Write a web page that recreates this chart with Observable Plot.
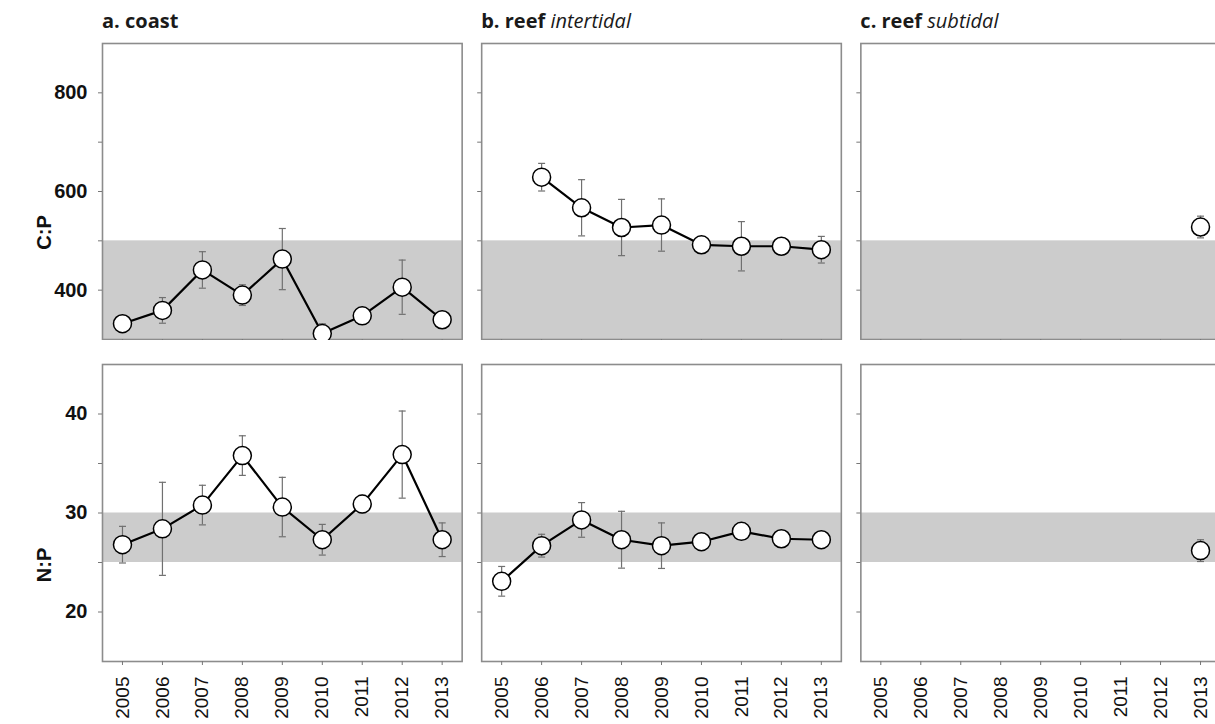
<!DOCTYPE html>
<html><head><meta charset="utf-8">
<script src="https://cdn.jsdelivr.net/npm/d3@7"></script>
<script src="https://cdn.jsdelivr.net/npm/@observablehq/plot@0.6"></script>
<style>
body{margin:0;background:#fff;overflow:hidden;}
#wrap{position:relative;width:1215px;height:724px;overflow:hidden;background:#fff;}
.title{position:absolute;top:8px;font-family:"Open Sans",sans-serif;font-size:20px;line-height:26px;color:#1a1a1a;white-space:nowrap;}
.title b{font-weight:700}
.title i{font-weight:400;font-style:italic}
#top{position:absolute;left:0;top:0;width:1230px}
#bot{position:absolute;left:0;top:340px;width:1230px}
#top svg,#bot svg{max-width:none !important;}
</style></head><body>
<div id="wrap"><div id="top"></div><div id="bot"></div></div>
<script>
// ---- data ----
const years = [2005, 2006, 2007, 2008, 2009, 2010, 2011, 2012, 2013];
const panelKeys = ["a", "b", "c"];
const panelBold = ["a. coast", "b. reef", "c. reef"];
const panelItalic = ["", "intertidal", "subtidal"];

const cpCoast = [332, 359, 441, 390, 463, 312, 348, 406, 340];
const cpCoastErr = [8, 26, 37, 21, 62, 20, 8, 55, 8];
const cpIntertidal = [null, 629, 567, 527, 532, 492, 489, 489, 482];
const cpIntertidalErr = [null, 28, 57, 57, 53, 12, 50, 8, 27];
const cpSubtidal = [null, null, null, null, null, null, null, null, 528];
const cpSubtidalErr = [null, null, null, null, null, null, null, null, 22];

const npCoast = [26.8, 28.4, 30.8, 35.8, 30.6, 27.3, 30.9, 35.9, 27.3];
const npCoastErr = [1.85, 4.7, 2.0, 2.0, 3.0, 1.55, 0.9, 4.4, 1.7];
const npIntertidal = [23.1, 26.7, 29.3, 27.3, 26.7, 27.1, 28.15, 27.4, 27.3];
const npIntertidalErr = [1.5, 1.15, 1.75, 2.87, 2.3, 0.85, 0.5, 0.4, 0.6];
const npSubtidal = [null, null, null, null, null, null, null, null, 26.2];
const npSubtidalErr = [null, null, null, null, null, null, null, null, 1.1];

const cpBand = [300, 500];
const npBand = [25, 30];
const cpDomain = [300, 900];
const npDomain = [15, 45];
const cpTicks = [400, 500, 600, 700, 800];
const cpLabelTicks = [400, 600, 800];
const npTicks = [20, 25, 30, 35, 40];
const npLabelTicks = [20, 30, 40];
const xDomain = [2004.5, 2013.5];

// ---- helpers ----
function rows(panel, vals, errs) {
  return years.map((year, i) => ({panel, year, v: vals[i], e: errs[i]})).filter(d => d.v != null);
}
const cpData = [...rows("a", cpCoast, cpCoastErr), ...rows("b", cpIntertidal, cpIntertidalErr), ...rows("c", cpSubtidal, cpSubtidalErr)];
const npData = [...rows("a", npCoast, npCoastErr), ...rows("b", npIntertidal, npIntertidalErr), ...rows("c", npSubtidal, npSubtidalErr)];

const cap = {draw(ctx, size) { const w = Math.sqrt(size / Math.PI); ctx.moveTo(-w, 0); ctx.lineTo(w, 0); }};

function makeRow({data, domain, band, ticks, labelTicks, label, labelDy, height, marginTop, marginBottom, xLabels}) {
  return Plot.plot({
    width: 1220, height, marginTop, marginBottom, marginLeft: 102, marginRight: 0,
    style: {fontFamily: "'Liberation Sans', Arial, sans-serif", fontSize: "20px", color: "#111", background: "white", overflow: "visible", maxWidth: "none"},
    fx: {domain: panelKeys, paddingInner: 0.0515, paddingOuter: 0, round: false, axis: null, label: null},
    x: {domain: xDomain, axis: null},
    y: {domain, axis: null},
    marks: [
      Plot.rect([{lo: band[0], hi: band[1]}], {y1: "lo", y2: "hi", fill: "#cccccc"}),
      Plot.frame({stroke: "#8c8c8c", strokeWidth: 1.6}),
      Plot.axisY({ticks, tickFormat: () => "", tickSize: 4, stroke: "#777", facetAnchor: null, label: null}),
      Plot.axisY({ticks: labelTicks, tickSize: 0, tickPadding: 15, fontWeight: "bold", fill: "#111", facetAnchor: "left", label: null}),
      Plot.axisX({ticks: years, tickSize: 4, stroke: "#777", fill: "#111", fontSize: 19,
        tickFormat: xLabels ? (d => String(d)) : (() => ""), tickRotate: xLabels ? -90 : 0,
        tickPadding: 11, label: null, facetAnchor: null}),
      Plot.ruleX(data, {x: "year", y1: d => d.v - d.e, y2: d => d.v + d.e, fx: "panel", stroke: "#707070", strokeWidth: 1.2}),
      Plot.dot(data, {x: "year", y: d => d.v - d.e, fx: "panel", symbol: cap, r: 3.5, stroke: "#707070", fill: "none", strokeWidth: 1.2}),
      Plot.dot(data, {x: "year", y: d => d.v + d.e, fx: "panel", symbol: cap, r: 3.5, stroke: "#707070", fill: "none", strokeWidth: 1.2}),
      Plot.line(data, {x: "year", y: "v", fx: "panel", z: "panel", stroke: "#000", strokeWidth: 2.2}),
      Plot.dot(data, {x: "year", y: "v", fx: "panel", r: 9, fill: "white", stroke: "#000", strokeWidth: 1.5}),
      Plot.text([{panel: "a"}], {fx: "panel", frameAnchor: "left", textAnchor: "middle", text: () => label, rotate: -90, dx: -58, dy: labelDy, fontWeight: "bold", fontSize: 20, fill: "#111"})
    ]
  });
}

const topPlot = makeRow({data: cpData, domain: cpDomain, band: cpBand, ticks: cpTicks, labelTicks: cpLabelTicks, label: "C:P", labelDy: 41, height: 349, marginTop: 43, marginBottom: 10, xLabels: false});
const botPlot = makeRow({data: npData, domain: npDomain, band: npBand, ticks: npTicks, labelTicks: npLabelTicks, label: "N:P", labelDy: 52, height: 384, marginTop: 24, marginBottom: 63, xLabels: true});
document.getElementById("top").appendChild(topPlot);
document.getElementById("bot").appendChild(botPlot);

// panel titles (HTML, above the plot)
const fxScale = topPlot.scale("fx");
const wrap = document.getElementById("wrap");
panelKeys.forEach((k, i) => {
  const div = document.createElement("div");
  div.className = "title";
  let left;
  try { left = fxScale.apply(k); } catch (e) { left = fxScale.range[0] + i * (fxScale.range[1] - fxScale.range[0]) / 3; }
  div.style.left = left + "px";
  const b = document.createElement("b"); b.textContent = panelBold[i]; div.appendChild(b);
  if (panelItalic[i]) { div.appendChild(document.createTextNode(" ")); const it = document.createElement("i"); it.textContent = panelItalic[i]; div.appendChild(it); }
  wrap.appendChild(div);
});
</script>
</body></html>
